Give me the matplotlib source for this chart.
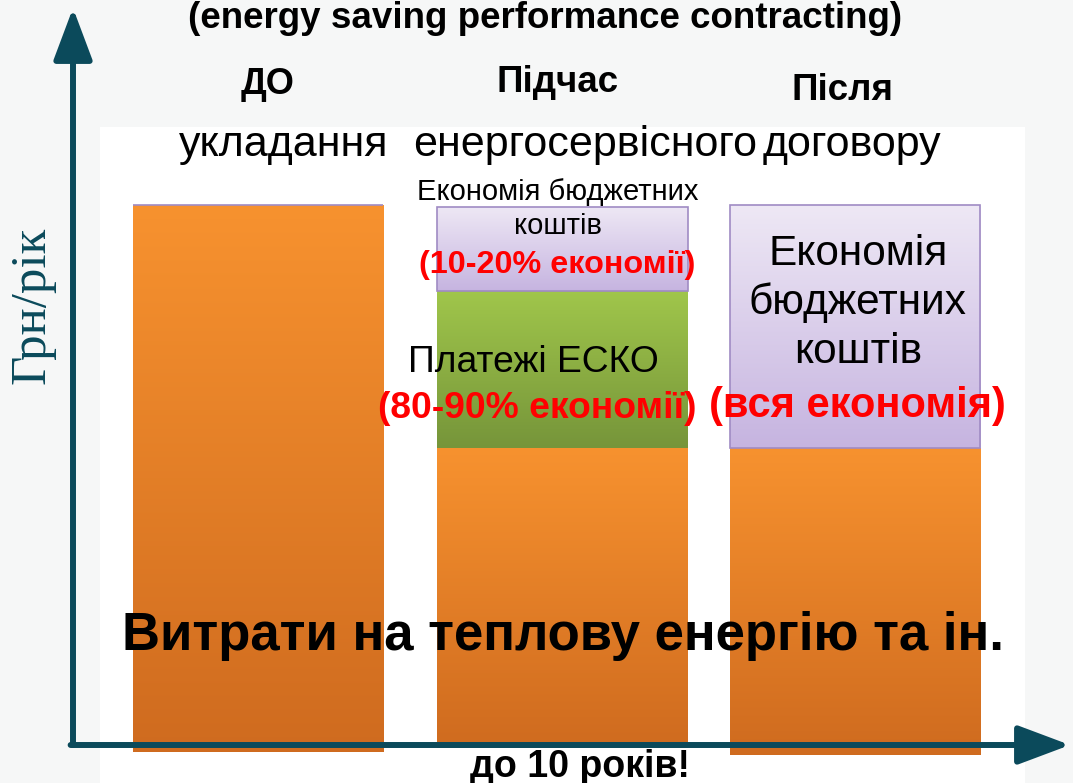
import numpy as np
import matplotlib as mpl
import matplotlib.pyplot as plt
from matplotlib.colors import LinearSegmentedColormap
from matplotlib.patches import Rectangle, FancyArrowPatch

SANS = ["Liberation Sans", "DejaVu Sans"]
mpl.rcParams.update({"font.family": SANS})

# data: stacked segments (share of the full bar height, %)
stages = ["ДО", "Підчас", "Після"]
xpos = [0.0, 1.02, 2.0]
base_start = [-1.3, -0.6, -1.9]
heat_cost = [101.3, 55.6, 56.9]      # orange: витрати на теплову енергію
esco_pay = [0, 29.0, 0]              # green: платежі ЕСКО
budget_save = [0, 15.7, 45.0]        # purple: економія бюджетних коштів

C_AXIS = "#0B4A5B"
ORANGE = ("#CF6B1F", "#F7922F")
GREEN = ("#76953A", "#A0C64B")
PURPLE = ("#C6B4E0", "#EEE8F5")

fig = plt.figure(figsize=(10.73, 7.83), dpi=100, facecolor="#F6F7F7")
ax = fig.add_axes([0, 0, 1, 1])
ax.set_axis_off()

# pixel-aligned scales: 298.5 px per stage, 5.4 px per %
px_x, px_y = 298.5, 5.4
x0_px, y0_px = 258, 745
xl = (-x0_px / px_x, (1073 - x0_px) / px_x)
yl = ((y0_px - 783) / px_y, y0_px / px_y)

# white panel behind the chart
ax.add_patch(Rectangle(((100 - x0_px) / px_x, yl[0]), 925 / px_x, (y0_px - 127) / px_y - yl[0],
                       facecolor="white", edgecolor="none", zorder=0))


def grad_bar(x, h, b, cols, edge=None):
    bars = ax.bar(x, h, bottom=b, width=0.84, facecolor="none",
                  edgecolor=edge or "none", linewidth=1.2 if edge else 0, zorder=3)
    cmap = LinearSegmentedColormap.from_list("g", list(cols))
    grad = np.linspace(0, 1, 256).reshape(-1, 1)
    for p in bars.patches:
        if p.get_height() <= 0:
            continue
        bx, by = p.get_x(), p.get_y()
        im = ax.imshow(grad, extent=[bx, bx + p.get_width(), by, by + p.get_height()],
                       origin="lower", aspect="auto", cmap=cmap, zorder=2)
        im.set_clip_path(p)
    return bars


b = np.array(base_start)
grad_bar(xpos, heat_cost, b, ORANGE)
b = b + np.array(heat_cost)
grad_bar(xpos, esco_pay, b, GREEN)
b = b + np.array(esco_pay)
grad_bar(xpos, budget_save, b, PURPLE, edge="#A08BC4")

# axes arrows
ax_x = (73 - x0_px) / px_x
ax.add_patch(FancyArrowPatch((ax_x, 0), (ax_x, (y0_px - 8) / px_y),
                             arrowstyle="-|>,head_length=1.6,head_width=0.6",
                             mutation_scale=20, color=C_AXIS, linewidth=4.3,
                             shrinkA=0, shrinkB=0, zorder=5))
ax.add_patch(FancyArrowPatch((ax_x - 0.008, 0), ((1070 - x0_px) / px_x, 0),
                             arrowstyle="-|>,head_length=1.6,head_width=0.6",
                             mutation_scale=20, color=C_AXIS, linewidth=4.3,
                             shrinkA=0, shrinkB=0, zorder=5))

ax.set_xlim(*xl)
ax.set_ylim(*yl)


def T(xp, yp, s, **kw):
    ax.text((xp - x0_px) / px_x, (y0_px - yp) / px_y, s, ha="center", va="center",
            zorder=6, **kw)


T(545, 19, "(energy saving performance contracting)", fontsize=26.5, fontweight="bold")
T(268, 84, stages[0], fontsize=26, fontweight="bold")
T(558, 83, stages[1], fontsize=26.5, fontweight="bold")
T(843, 91, stages[2], fontsize=26.5, fontweight="bold")
T(284, 145, "укладання", fontsize=31)
T(585, 145, "енергосервісного", fontsize=31)
T(852, 145, "договору", fontsize=31)
T(558, 209, "Економія бюджетних\nкоштів", fontsize=21, linespacing=1.27)
T(557, 265, "(10-20% економії)", fontsize=23.3, fontweight="bold", color="red")
T(533, 362, "Платежі ЕСКО", fontsize=26.8)
T(537, 408, "(80-90% економії)", fontsize=26.8, fontweight="bold", color="red")
T(858, 303, "Економія\nбюджетних\nкоштів", fontsize=30.5, linespacing=1.27)
T(857, 406, "(вся економія)", fontsize=30, fontweight="bold", color="red")
T(563, 636, "Витрати на теплову енергію та ін.", fontsize=38, fontweight="bold")
T(580, 767, "до 10 років!", fontsize=27, fontweight="bold")
T(32, 305, "Грн/рік", fontsize=36.5, rotation=90, color=C_AXIS,
  family=["Liberation Serif", "DejaVu Serif"])

fig.savefig("out.png", dpi=100, facecolor=fig.get_facecolor())
